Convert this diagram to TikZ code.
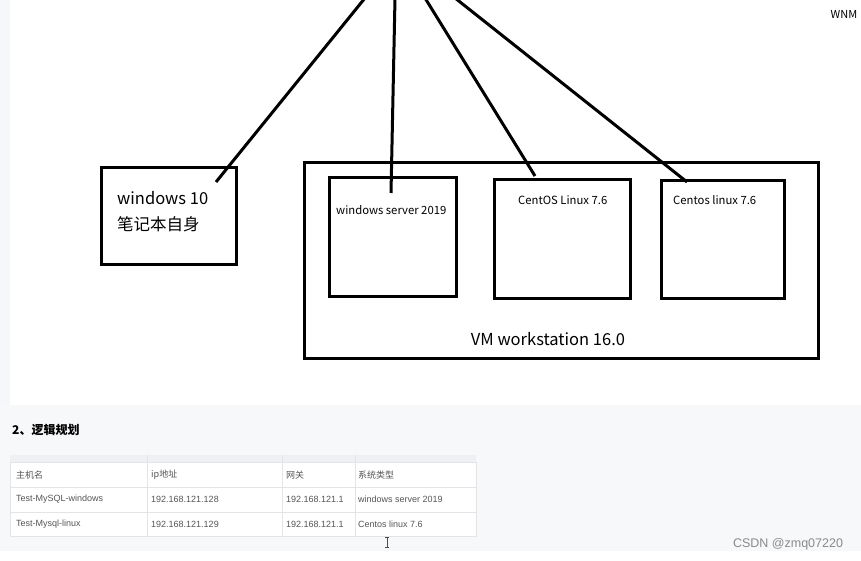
\documentclass[tikz,border=0pt]{standalone}
\usepackage{fontspec}
\setmainfont{Noto Sans CJK SC}
\newfontfamily\tabfont{Liberation Sans}
\newfontfamily\cjk{Noto Sans CJK SC}
\definecolor{pagegray}{HTML}{F7F8FA}
\definecolor{stripgray}{HTML}{F6F7FA}
\definecolor{gridline}{HTML}{E2E4E8}
\definecolor{headgray}{HTML}{EEF0F3}
\definecolor{tabtext}{HTML}{555555}
\definecolor{marktext}{HTML}{8A8A8A}
\tikzset{
  hostbox/.style={draw=black,line width=3pt,inner sep=0pt},
  link/.style={draw=black,line width=3pt},
  small/.style={font=\fontsize{11.3}{13}\selectfont,inner sep=0pt,anchor=west},
  big/.style={font=\fontsize{16.5}{20}\selectfont,inner sep=0pt,anchor=west},
  cell/.style={font=\tabfont\fontsize{9}{11}\selectfont,text=tabtext,inner sep=0pt,anchor=west}
}
\begin{document}
\begin{tikzpicture}[x=1pt,y=-1pt]
\useasboundingbox (0,0) rectangle (861,561);
\fill[white] (0,0) rectangle (861,561);
\fill[stripgray] (0,0) rectangle (10,405);
\fill[pagegray] (0,405) rectangle (861,551);
% boxes
\node[hostbox,minimum width=135pt,minimum height=96pt] (win10) at (168.5,216) {};
\node[big] (t1) at (117,198) {windows 10};
\node[big] (t2) at (117,224) {笔记本自身};
\node[hostbox,minimum width=514pt,minimum height=195pt] (vm) at (561,260.5) {};
\node[hostbox,minimum width=127pt,minimum height=118pt] (ws) at (392.5,237) {};
\node[hostbox,minimum width=136pt,minimum height=118pt] (c1) at (562,239) {};
\node[hostbox,minimum width=123pt,minimum height=117pt] (c2) at (722.5,239.5) {};
\node[small] (tws) at (336,210) {windows server 2019};
\node[small] (tc1) at (518,200) {CentOS Linux 7.6};
\node[small] (tc2) at (673,200) {Centos linux 7.6};
\node[font=\fontsize{16.5}{20}\selectfont,inner sep=0pt] (tvm) at (548,339) {VM workstation 16.0};
% lines
\coordinate (p1) at (365,-2);
\coordinate (p2) at (395,-2);
\coordinate (p3) at (425,-2);
\coordinate (p4) at (455,-2);
\coordinate (e1) at (216,182);
\coordinate (e2) at (391,193);
\coordinate (e3) at (535,176);
\coordinate (e4) at (687,182);
\draw[link] (p1) -- (e1);
\draw[link] (p2) -- (e2);
\draw[link] (p3) -- (e3);
\draw[link] (p4) -- (e4);
\node[font=\fontsize{11}{12}\selectfont,inner sep=0pt] (wnm) at (844,14) {WNM};
% section title
\node[font=\cjk\bfseries\fontsize{12}{14}\selectfont,inner sep=0pt,anchor=west] (sec) at (12,430) {2、逻辑规划};
% table
\fill[headgray] (10,455) rectangle (476,462);
\fill[white] (10,462) rectangle (476,536);
\draw[gridline,line width=0.8pt] (10,462) rectangle (476,536);
\draw[gridline,line width=0.8pt] (10,487) -- (476,487);
\draw[gridline,line width=0.8pt] (10,512) -- (476,512);
\foreach \cx in {147,282,355}{\draw[gridline,line width=0.8pt] (\cx,455) -- (\cx,536);}
\node[cell,font=\cjk\fontsize{9}{11}\selectfont] (h1) at (16,475) {主机名};
\node[cell,font=\cjk\fontsize{9}{11}\selectfont] (h2) at (151,475) {ip地址};
\node[cell,font=\cjk\fontsize{9}{11}\selectfont] (h3) at (286,475) {网关};
\node[cell,font=\cjk\fontsize{9}{11}\selectfont] (h4) at (358,475) {系统类型};
\node[cell] (r11) at (16,499.5) {Test-MySQL-windows};
\node[cell] (r12) at (151,499.5) {192.168.121.128};
\node[cell] (r13) at (286,499.5) {192.168.121.1};
\node[cell] (r14) at (358,499.5) {windows server 2019};
\node[cell] (r21) at (16,524) {Test-Mysql-linux};
\node[cell] (r22) at (151,524) {192.168.121.129};
\node[cell] (r23) at (286,524) {192.168.121.1};
\node[cell] (r24) at (358,524) {Centos linux 7.6};
% cursor
\draw[black!70,line width=0.8pt] (387,537) -- (387,547) (385,537) -- (389,537) (385,547) -- (389,547);
% watermark
\node[font=\tabfont\fontsize{12.5}{14}\selectfont,text=marktext,inner sep=0pt] (wm) at (788,544) {CSDN @zmq07220};
\end{tikzpicture}
\end{document}
